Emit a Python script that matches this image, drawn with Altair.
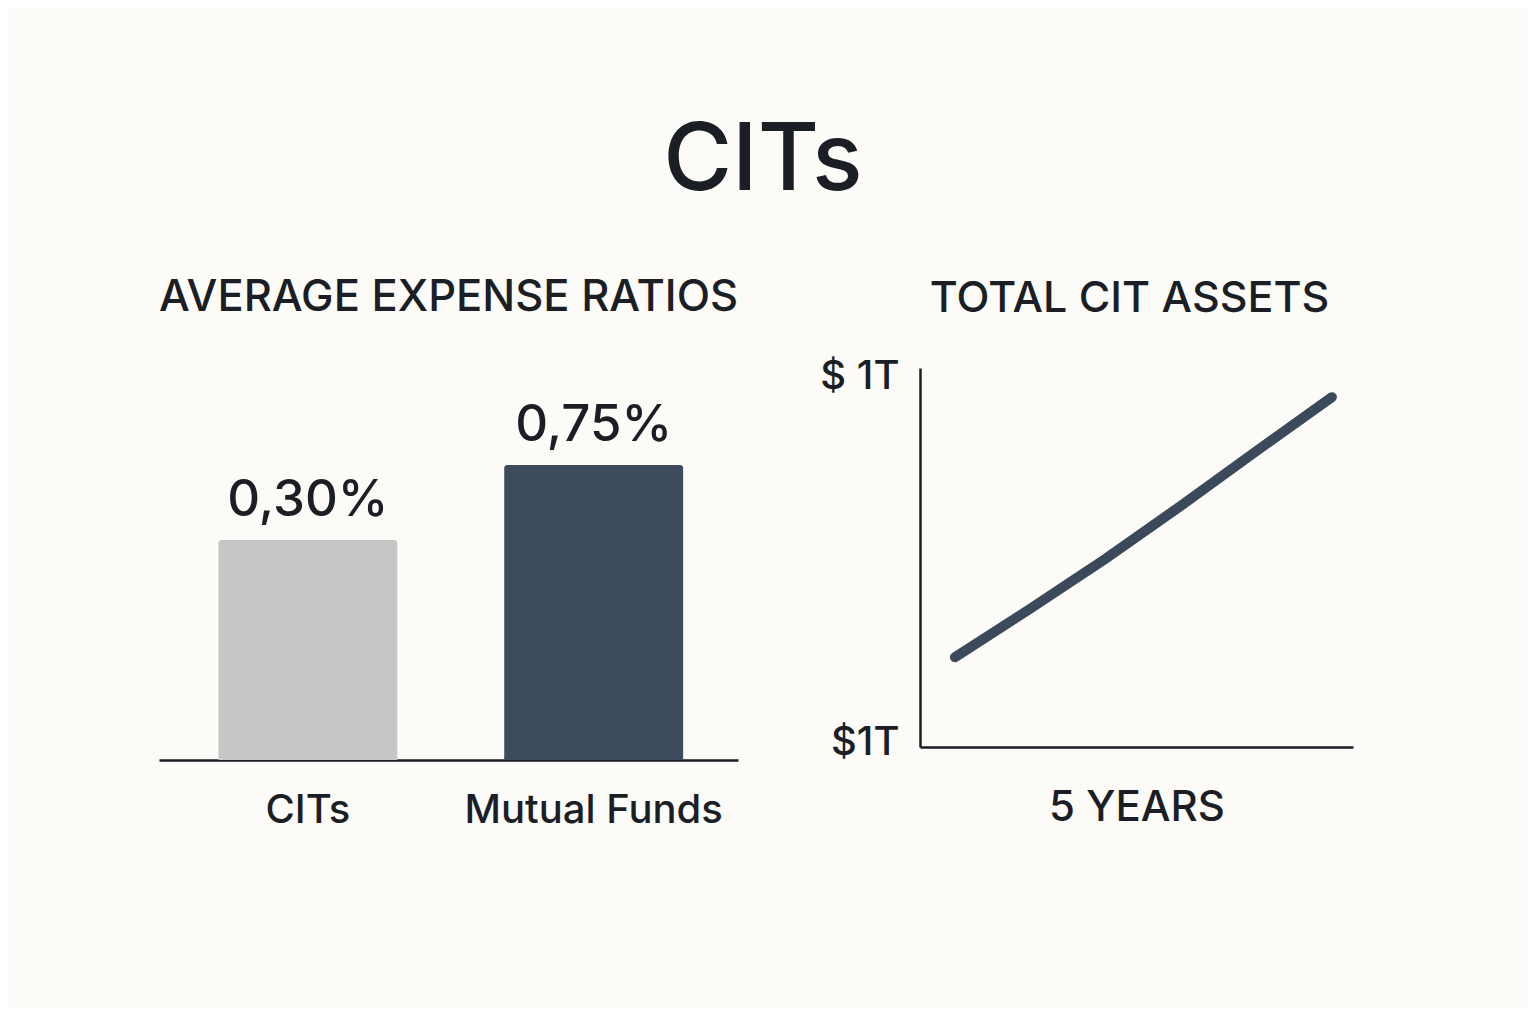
import altair as alt
import pandas as pd

# ---- data ----
categories = ["CITs", "Mutual Funds"]
ratios = [0.30, 0.75]
ratio_labels = ["0,30%", "0,75%"]
bar_colors = ["#c6c6c6", "#3d4c5d"]

years = [0, 1, 2, 3, 4, 5]
assets = [0.237, 0.365, 0.497, 0.637, 0.781, 0.923]
y_ticks = [0, 1]
y_tick_labels = ["$1T", "$ 1T"]

BG = "#fcfbf7"
INK = "#1b1e25"
LINE = "#3b4a5b"
FONT = "Inter"

bar_floor = -1.02
bar_ceiling = 1.332

bars_df = pd.DataFrame({"category": categories, "ratio": ratios,
                        "label": ratio_labels, "color": bar_colors})
line_df = pd.DataFrame({"year": years, "assets": assets})

base = alt.Chart(bars_df)
x_enc = alt.X("category:N", sort=categories,
              scale=alt.Scale(paddingInner=0.374, paddingOuter=0.2, align=0.52),
              axis=alt.Axis(title=None, labelAngle=0, labelFontSize=40,
                            labelFontWeight=500,
                            labelPadding=30, labelLimit=0, ticks=False,
                            domainColor=INK, domainWidth=2.5, labelColor=INK,
                            labelFont=FONT, grid=False))
y_enc = alt.Y("ratio:Q", scale=alt.Scale(domain=[bar_floor, bar_ceiling],
                                         zero=False, nice=False), axis=None)

bars = base.mark_bar(cornerRadiusTopLeft=3, cornerRadiusTopRight=3).encode(
    x=x_enc, y=y_enc, y2=alt.datum(bar_floor),
    color=alt.Color("color:N", scale=None),
)
bar_text = base.mark_text(baseline="alphabetic", dy=-24, fontSize=51,
                          fontWeight=500, font=FONT, color=INK).encode(
    x=x_enc, y=y_enc, text="label:N")

left = alt.layer(bars, bar_text).properties(
    width=579, height=392,
    title=alt.TitleParams("AVERAGE EXPENSE RATIOS", fontSize=43.5, font=FONT,
                          fontWeight=500, color=INK, offset=48, anchor="middle"),
)

label_expr = " : ".join(
    [f"datum.value == {v} ? '{l}'" for v, l in zip(y_ticks[1:], y_tick_labels[1:])]
    + [f"'{y_tick_labels[0]}'"])

line = alt.Chart(line_df).mark_line(strokeWidth=10, strokeCap="round",
                                    color=LINE).encode(
    x=alt.X("year:Q", scale=alt.Scale(domain=[-0.464, 5.28], nice=False, zero=False),
            axis=alt.Axis(title="5 YEARS", titleFontSize=42, titleFont=FONT,
                          titleFontWeight=500, titleColor=INK, titlePadding=40,
                          labels=False, ticks=False, grid=False,
                          domainColor=INK, domainWidth=2.5)),
    y=alt.Y("assets:Q", scale=alt.Scale(domain=[0, 1], nice=False, zero=False),
            axis=alt.Axis(title=None, values=y_ticks, labelExpr=label_expr,
                          labelFontSize=40, labelFont=FONT, labelColor=INK,
                          labelFontWeight=500,
                          labelPadding=21, ticks=False, grid=False,
                          labelOffset={"condition": {"test": f"datum.value == {y_ticks[1]}",
                                                     "value": 8}, "value": -5},
                          domainColor=INK, domainWidth=2.5)),
).properties(
    width=433, height=379,
    title=alt.TitleParams("TOTAL CIT ASSETS", fontSize=43, font=FONT,
                          fontWeight=500, color=INK, offset=35, anchor="middle",
                          dx=-7),
)

chart = alt.hconcat(left, line, spacing=80).properties(
    title=alt.TitleParams("CITs", fontSize=94, font=FONT, fontWeight=500,
                          color=INK, anchor="middle", offset=66, dx=7),
    padding={"left": 150, "top": 106, "right": 175, "bottom": 177},
).configure(background=BG).configure_view(stroke=None)

chart.save("out.html", embed_options={"renderer": "svg", "actions": False})
